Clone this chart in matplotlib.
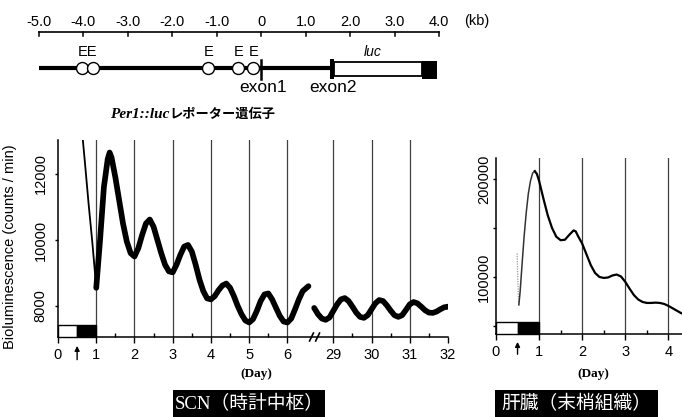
import matplotlib.pyplot as plt
from matplotlib.patches import Rectangle
from matplotlib.transforms import blended_transform_factory

plt.rcParams['font.family'] = ['Liberation Sans', 'Noto Sans CJK JP']
SERIF = ['Liberation Serif', 'Noto Sans CJK JP']

W, H = 682, 417

# gene map, kb
KB_TICKS = [-5, -4, -3, -2, -1, 0, 1, 2, 3, 4]
KB_LABELS = ["-5.0", "-4.0", "-3.0", "-2.0", "-1.0", "0", "1.0", "2.0", "3.0", "4.0"]
EBOX_KB = [-4.03, -3.78, -1.19, -0.52, -0.18]
E_LABEL_KB = [-3.92, -1.18, -0.50, -0.17]
E_LABEL_TEXT = ["EE", "E", "E", "E"]
EXON1_KB = 0.0
EXON2_KB = 1.6
LUC_END_KB = 3.62
PA_END_KB = 3.96

# SCN recording: early decay, days 1-6.6, days 28.5-32
SCN_EARLY_DAY = [0.62, 0.70, 0.80, 0.90, 0.96, 1.00]
SCN_EARLY_VAL = [13400, 12400, 11100, 9900, 9100, 8550]
SCN_A_DAY = [1.0, 1.1, 1.2, 1.3, 1.35, 1.4, 1.5, 1.6, 1.7, 1.8, 1.9, 2.0,
             2.1, 2.2, 2.3, 2.4, 2.5, 2.6, 2.7, 2.8, 2.9, 3.0,
             3.1, 3.2, 3.3, 3.4, 3.5, 3.6, 3.7, 3.8, 3.9, 4.0,
             4.1, 4.2, 4.3, 4.4, 4.5, 4.6, 4.7, 4.8, 4.9, 5.0,
             5.1, 5.2, 5.3, 5.4, 5.5, 5.6, 5.7, 5.8, 5.9, 6.0,
             6.1, 6.2, 6.3, 6.4, 6.55]
SCN_A_VAL = [8550, 10000, 11600, 12450, 12650, 12500, 11900, 11200, 10500, 9950, 9600, 9500,
             9750, 10150, 10500, 10620, 10400, 10000, 9600, 9250, 9050, 9020,
             9250, 9550, 9800, 9850, 9650, 9250, 8800, 8450, 8230, 8200,
             8300, 8480, 8620, 8680, 8550, 8300, 8000, 7750, 7560, 7500,
             7600, 7850, 8150, 8350, 8380, 8200, 7950, 7700, 7530, 7500,
             7620, 7900, 8200, 8450, 8600]
SCN_B_DAY = [28.5, 28.6, 28.7, 28.8, 28.9, 29.0, 29.1, 29.2, 29.3, 29.4, 29.5,
             29.6, 29.7, 29.8, 29.9, 30.0, 30.1, 30.2, 30.3, 30.4, 30.5,
             30.6, 30.7, 30.8, 30.9, 31.0, 31.1, 31.2, 31.3, 31.4, 31.5,
             31.6, 31.7, 31.8, 31.9, 32.0]
SCN_B_VAL = [7940, 7750, 7620, 7580, 7650, 7850, 8050, 8200, 8240, 8150, 7980,
             7800, 7670, 7640, 7720, 7900, 8080, 8180, 8150, 8020, 7860,
             7720, 7670, 7720, 7880, 8050, 8120, 8080, 7980, 7870, 7800,
             7790, 7830, 7900, 7960, 7980]
SCN_XTICKS = [0, 1, 2, 3, 4, 5, 6, 29, 30, 31, 32]
SCN_MINOR = [0.5, 1.5, 2.5, 3.5, 4.5, 5.5, 29.5, 30.5, 31.5]
SCN_DAY_LINES = [1, 2, 3, 4, 5, 6, 29, 30, 31]
SCN_YTICKS = [8000, 10000, 12000]
BREAK_SHIFT = 21.8

# liver recording
LIVER_DOT_DAY = [0.49, 0.50, 0.51, 0.52, 0.53]
LIVER_DOT_VAL = [124000, 108000, 92000, 80000, 72000]
LIVER_RISE_DAY = [0.53, 0.56, 0.60, 0.65, 0.70, 0.75, 0.80, 0.85, 0.90]
LIVER_RISE_VAL = [71500, 85000, 110000, 140000, 165000, 185000, 198000, 206000, 208000]
LIVER_DAY = [0.90, 0.95, 1.0, 1.1, 1.2, 1.3, 1.4, 1.5, 1.6, 1.7, 1.8, 1.85, 1.9,
             2.0, 2.1, 2.2, 2.3, 2.4, 2.5, 2.6, 2.7, 2.8, 2.9, 3.0, 3.1, 3.2,
             3.3, 3.4, 3.5, 3.6, 3.7, 3.8, 3.9, 4.0, 4.1, 4.2, 4.3]
LIVER_VAL = [208000, 205000, 198000, 180000, 163000, 150000, 141000, 137500, 138000,
             143000, 147500, 146500, 142000, 134000, 123000, 112000, 104000, 100000,
             99000, 99500, 101500, 102500, 100500, 95000, 88000, 81500, 77000, 74500,
             73500, 73500, 73800, 73500, 72500, 70500, 68000, 65500, 63000]
LIVER_XTICKS = [0, 1, 2, 3, 4]
LIVER_MINOR = [0.5, 1.5, 2.5, 3.5]
LIVER_YTICKS = [100000, 200000]
LIVER_YMINOR = [50000, 150000]


def fx(px):
    return px / W


def fy(py):
    return 1 - py / H


def to_axis(day):
    return day - BREAK_SHIFT if day > 10 else day


def light_bar(ax, height):
    tr = blended_transform_factory(ax.transData, ax.transAxes)
    ax.add_patch(Rectangle((0, 0), 0.5, height, transform=tr, facecolor="white",
                           edgecolor="black", lw=1, zorder=4, clip_on=False))
    ax.add_patch(Rectangle((0.5, 0), 0.5, height, transform=tr, facecolor="black",
                           edgecolor="black", lw=1, zorder=4, clip_on=False))
    ax.annotate("", xy=(0.5, -0.045), xytext=(0.5, -0.115),
                xycoords=tr, textcoords=tr,
                arrowprops=dict(arrowstyle="-|>", color="black", lw=1,
                                mutation_scale=7, shrinkA=0, shrinkB=0))


def style_axes(ax):
    for side in ["top", "right"]:
        ax.spines[side].set_visible(False)
    for side in ["left", "bottom"]:
        ax.spines[side].set_linewidth(1.1)
    ax.tick_params(axis="x", which="major", direction="out", length=4, width=1,
                   labelsize=10.5, pad=4)
    ax.tick_params(axis="x", which="minor", direction="in", length=3, width=1)


fig = plt.figure(figsize=(W / 100, H / 100), dpi=100)

# ---- gene construct ----
ag = fig.add_axes([0, fy(125), 1, 125 / H])
ag.set_xlim(-5 - 39 / 44.44, 4 + (W - 439) / 44.44)
ag.set_ylim(125, 0)
ag.axis("off")
ag.plot([KB_TICKS[0], KB_TICKS[-1]], [32, 32], color="black", lw=1.2)
for k, lab in zip(KB_TICKS, KB_LABELS):
    ag.plot([k, k], [32, 36], color="black", lw=1.1)
    ag.text(k, 22.5, lab, ha="center", va="center", fontsize=10.5)
ag.text(4.85, 21.5, "(kb)", ha="center", va="center", fontsize=10.5)
ag.plot([-5, EXON2_KB], [68, 68], color="black", lw=3, solid_capstyle="butt")
ag.plot(EBOX_KB, [68] * len(EBOX_KB), "o", ms=8.6, mfc="white", mec="black",
        mew=1, zorder=3)
for k, lab in zip(E_LABEL_KB, E_LABEL_TEXT):
    ag.text(k, 52, lab, ha="center", va="center", fontsize=10.5)
ag.plot([EXON1_KB, EXON1_KB], [60, 79], color="black", lw=1.8, zorder=4)
ag.add_patch(Rectangle((EXON2_KB - 0.05, 59), 0.09, 20, facecolor="black"))
ag.add_patch(Rectangle((EXON2_KB + 0.04, 61.5), LUC_END_KB - EXON2_KB - 0.04, 14.5,
                       facecolor="white", edgecolor="black", lw=1.3))
ag.add_patch(Rectangle((LUC_END_KB, 61), PA_END_KB - LUC_END_KB, 18, facecolor="black"))
ag.text(2.52, 52, "luc", ha="center", va="center", fontsize=10, style="italic")
ag.text(0.04, 88, "exon1", ha="center", va="center", fontsize=12.5)
ag.text(1.62, 88, "exon2", ha="center", va="center", fontsize=12.5)
t1 = ag.text(-3.4, 114, "Per1::luc", ha="left", va="center", fontsize=11,
             family=SERIF, weight="bold", style="italic")
ag.annotate("レポーター遺伝子", xy=(1, 0.5), xycoords=t1, ha="left", va="center",
            fontsize=9.5, weight="bold", family=['Noto Sans CJK JP'])

# ---- SCN ----
ax = fig.add_axes([fx(58), fy(337), fx(448 - 58), (337 - 140) / H])
style_axes(ax)
ax.set_xlim(0, to_axis(32))
ax.set_ylim(7060, 13030)
for d in SCN_DAY_LINES:
    ax.axvline(to_axis(d), color="0.25", lw=0.9, zorder=1)
ax.plot(SCN_EARLY_DAY, SCN_EARLY_VAL, color="black", lw=1.3, zorder=2)
ax.plot(SCN_A_DAY, SCN_A_VAL, color="black", lw=4.1, zorder=2,
        solid_joinstyle="round", solid_capstyle="round")
ax.plot([to_axis(d) for d in SCN_B_DAY], SCN_B_VAL, color="black", lw=4.1, zorder=2,
        solid_joinstyle="round", solid_capstyle="round")
ax.set_xticks([to_axis(d) for d in SCN_XTICKS])
ax.set_xticklabels([str(d) for d in SCN_XTICKS])
ax.set_xticks([to_axis(d) for d in SCN_MINOR], minor=True)
ax.set_yticks(SCN_YTICKS)
ax.set_yticklabels([str(v) for v in SCN_YTICKS], rotation=90, va="center")
ax.tick_params(axis="y", direction="out", length=2.5, width=1, labelsize=10.5, pad=5)
ax.set_ylabel("Bioluminescence (counts / min)", fontsize=10.5)
ax.yaxis.set_label_coords(-0.105, 0.46)
light_bar(ax, 12 / 197)
tr = blended_transform_factory(ax.transData, ax.transAxes)
for bx in [6.63, 6.79]:
    ax.plot([bx - 0.05, bx + 0.05], [-0.02, 0.02], transform=tr, color="black",
            lw=1.2, clip_on=False, zorder=5)
fig.text(fx(256), fy(374), "(Day)", ha="center", va="center", fontsize=9.5,
         family=SERIF, weight="bold")

# ---- liver ----
al = fig.add_axes([fx(496), fy(334), fx(W - 496), (334 - 158) / H])
style_axes(al)
al.set_xlim(0, (W - 496) / 43.1)
al.set_ylim(41800, 221400)
for d in LIVER_XTICKS[1:]:
    al.axvline(d, color="0.25", lw=0.9, zorder=1)
al.plot(LIVER_DOT_DAY, LIVER_DOT_VAL, color="0.6", lw=0.9, ls=(0, (1, 1)), zorder=2)
al.plot(LIVER_RISE_DAY, LIVER_RISE_VAL, color="0.2", lw=1.1, zorder=2)
al.plot(LIVER_DAY, LIVER_VAL, color="black", lw=1.6, zorder=2)
al.set_xticks(LIVER_XTICKS)
al.set_xticklabels([str(d) for d in LIVER_XTICKS])
al.set_xticks(LIVER_MINOR, minor=True)
al.set_yticks(LIVER_YTICKS)
al.set_yticks(LIVER_YMINOR, minor=True)
al.set_yticklabels([str(v) for v in LIVER_YTICKS], rotation=90, va="center")
al.tick_params(axis="y", which="both", direction="out", length=2.5, width=1,
               labelsize=10.5, pad=1)
light_bar(al, 12 / 176)
fig.text(fx(593), fy(374), "(Day)", ha="center", va="center", fontsize=9.5,
         family=SERIF, weight="bold")

# ---- captions ----
for (x0, x1), label in [((173, 325), "SCN（時計中枢）"), ((495, 658), "肝臓（末梢組織）")]:
    fig.patches.append(Rectangle((fx(x0), 0), fx(x1 - x0), 27 / H, transform=fig.transFigure,
                                 facecolor="black", edgecolor="none"))
    fig.text(fx((x0 + x1) / 2), fy(404), label, ha="center", va="center",
             color="white", fontsize=13.5, family=SERIF)

fig.savefig("out.png", dpi=100)
